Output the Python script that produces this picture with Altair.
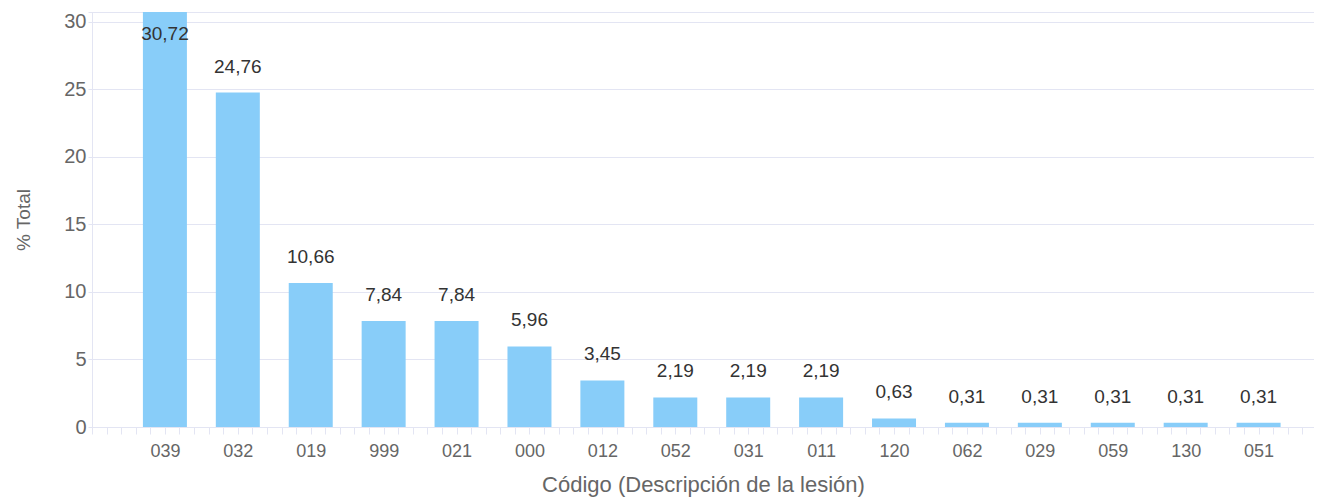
import json
import altair as alt
import pandas as pd

codes = ["039", "032", "019", "999", "021", "000", "012", "052",
         "031", "011", "120", "062", "029", "059", "130", "051"]
pct = [30.72, 24.76, 10.66, 7.84, 7.84, 5.96, 3.45, 2.19,
       2.19, 2.19, 0.63, 0.31, 0.31, 0.31, 0.31, 0.31]
y_ticks = [0, 5, 10, 15, 20, 25, 30]

df = pd.DataFrame({"code": codes, "pct": pct, "idx": list(range(len(codes)))})

ymax = max(pct)
xmin, xmax = -1.0, 15.76
x_tick_vals = [round(xmin + 0.2 * k, 1) for k in range(int((xmax - xmin) / 0.2) + 1)]

FONT = "Liberation Sans"
GRID = "#e3e5f3"
LABEL = "#666666"
BAR = "#88cdf9"

codes_js = json.dumps(codes)
x_label_expr = (
    f"(abs(datum.value - round(datum.value)) < 0.01 && datum.value > -0.5 && datum.value < {len(codes) - 0.5}) "
    f"? {codes_js}[round(datum.value)] : ''"
)

x_enc = alt.X(
    "idx:Q",
    scale=alt.Scale(domain=[xmin, xmax], nice=False, zero=False, padding=0),
    axis=alt.Axis(
        values=x_tick_vals,
        tickCount=500,
        labelExpr=x_label_expr,
        labelOverlap=False,
        labelFlush=False,
        grid=False,
        domainColor=GRID,
        tickColor=GRID,
        tickSize=7,
        labelPadding=8,
        labelColor=LABEL,
        labelFont=FONT,
        labelFontSize=18,
        title="Código (Descripción de la lesión)",
        titleFont=FONT,
        titleFontSize=22,
        titleFontWeight="normal",
        titleColor=LABEL,
        titlePadding=14,
    ),
)

y_enc = alt.Y(
    "pct:Q",
    scale=alt.Scale(domain=[0, ymax], nice=False, padding=0),
    axis=alt.Axis(
        values=y_ticks + [ymax],
        tickCount=500,
        format="d",
        labelExpr="datum.value > 30.5 ? '' : datum.label",
        grid=True,
        gridColor=GRID,
        domainColor=GRID,
        tickColor=GRID,
        tickSize=4,
        labelPadding=2,
        labelColor=LABEL,
        labelFont=FONT,
        labelFontSize=20,
        title="% Total",
        titleFont=FONT,
        titleFontSize=19,
        titleFontWeight="normal",
        titleColor=LABEL,
        titlePadding=30,
    ),
)

base = alt.Chart(df).transform_calculate(
    label="replace(format(datum.pct, '.2f'), '.', ',')"
)

bars = base.mark_bar(color=BAR, size=44, clip=True).encode(x=x_enc, y=y_enc)

labels_above = base.transform_filter("datum.pct < 28").mark_text(
    font=FONT, fontSize=19, color="#333333", dy=-26, clip=True
).encode(x="idx:Q", y="pct:Q", text="label:N")

labels_inside = base.transform_filter("datum.pct >= 28").mark_text(
    font=FONT, fontSize=19, color="#333333", dy=22, clip=True
).encode(x="idx:Q", y="pct:Q", text="label:N")

chart = (
    alt.layer(bars, labels_above, labels_inside)
    .properties(
        width=1222,
        height=415,
        autosize=alt.AutoSizeParams(type="none"),
        padding={"left": 84, "top": 4, "right": 0, "bottom": 70},
    )
    .configure_view(stroke=None)
    .configure(background="white")
)

chart.save("out.html", embed_options={"renderer": "svg", "actions": False})
